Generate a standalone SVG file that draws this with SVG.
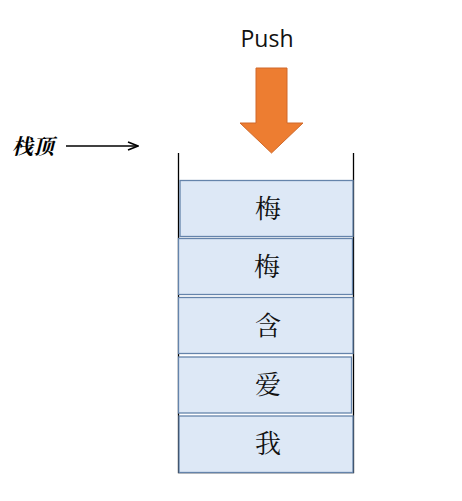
<svg xmlns="http://www.w3.org/2000/svg" width="462" height="501" viewBox="0 0 462 501">
<style>
.box{fill:#dde8f6;stroke:#6584ab;stroke-width:1.3}
.ch{font-family:"Noto Serif CJK SC","Noto Sans CJK SC",serif;font-size:26px;fill:#111;text-anchor:middle}
.wall{stroke:#000;stroke-width:1.3;fill:none}
</style>
<defs>
<marker id="ah" markerWidth="12" markerHeight="10" refX="11" refY="5" orient="auto" markerUnits="userSpaceOnUse">
<path d="M1,1 L11,5 L1,9" fill="none" stroke="#000" stroke-width="1.6"/>
</marker>
</defs>
<rect width="462" height="501" fill="#fff"/>
<text x="267" y="47" font-family="Open Sans, Liberation Sans, sans-serif" font-size="23" text-anchor="middle" fill="#111">Push</text>
<g id="push-arrow">
<path d="M256,68 H287 V123 H303 L271.5,153 L240,123 H256 Z" fill="#ed7d31" stroke="#d0692a" stroke-width="1"/>
</g>
<g id="top-label">
<text x="12" y="154" font-family="Noto Serif CJK SC, Noto Sans CJK SC, serif" font-size="21" font-style="italic" font-weight="bold" fill="#000">栈顶</text>
</g>
<g id="connectors">
<line x1="66" y1="146" x2="138" y2="146" stroke="#000" stroke-width="1.6" marker-end="url(#ah)"/>
</g>
<g id="stack">
<path class="wall" d="M178.5,153 V472.5 H353.5 V153"/>
</g>
<g id="n1"><rect class="box" x="180" y="180.5" width="173" height="56"/><text class="ch" x="268" y="218">梅</text></g>
<g id="n2"><rect class="box" x="178.5" y="238.5" width="174" height="56"/><text class="ch" x="267" y="276">梅</text></g>
<g id="n3"><rect class="box" x="178.5" y="297.5" width="174.5" height="56"/><text class="ch" x="268" y="335">含</text></g>
<g id="n4"><rect class="box" x="178.5" y="357" width="173" height="56"/><text class="ch" x="268" y="394">爱</text></g>
<g id="n5"><rect class="box" x="179" y="416" width="174" height="56.5"/><text class="ch" x="268" y="453">我</text></g>
</svg>
